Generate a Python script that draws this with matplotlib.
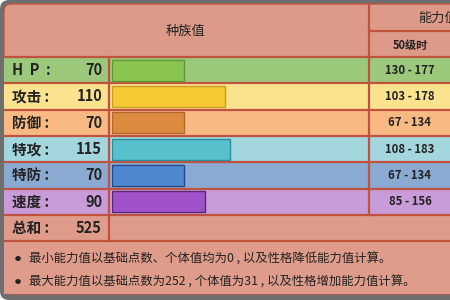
import numpy as np
import matplotlib.pyplot as plt
from matplotlib.patches import Rectangle, FancyBboxPatch

plt.rcParams['font.family'] = ['Noto Sans CJK SC', 'DejaVu Sans']

# table data
labels = ['H  P  :', '攻击 :', '防御 :', '特攻 :', '特防 :', '速度 :']
base_stats = [70, 110, 70, 115, 70, 90]
ranges_50 = ['130 - 177', '103 - 178', '67 - 134', '108 - 183', '67 - 134', '85 - 156']
total_label = '总和 :'
total_value = 525
notes = ['最小能力值以基础点数、个体值均为0 , 以及性格降低能力值计算。',
         '最大能力值以基础点数为252 , 个体值为31 , 以及性格增加能力值计算。']

row_bg = ['#9cc87c', '#fae28e', '#f8ba82', '#a4d6de', '#8aaad2', '#c89cd8']
bar_fc = ['#8ac552', '#f6c832', '#dc8a3e', '#58c0cc', '#5088d0', '#a052c8']
bar_ec = ['#5e9a36', '#c89c28', '#b0682c', '#2e8c98', '#28488c', '#5a2a7a']
salmon = '#de9a88'
line_c = '#c0533f'
txt_c = '#222222'

fig = plt.figure(figsize=(4.5, 3), dpi=100)
ax = fig.add_axes([0, 0, 1, 1])
ax.set_xlim(0, 450)
ax.set_ylim(300, 0)
ax.axis('off')

# outer frame
ax.add_patch(FancyBboxPatch((0, 0), 480, 300, boxstyle='round,pad=0,rounding_size=9',
                            fc='#6e6e6e', ec='none'))
ax.add_patch(FancyBboxPatch((4, 4), 476, 290, boxstyle='round,pad=0,rounding_size=7',
                            fc=salmon, ec=line_c, lw=1))

top = 57
step = 26.3
edges = [top + i * step for i in range(8)]
centers = [(edges[i] + edges[i + 1]) / 2 for i in range(7)]

for i in range(6):
    ax.add_patch(Rectangle((4, edges[i]), 476, step, fc=row_bg[i], ec='none'))
ax.add_patch(Rectangle((4, edges[6]), 476, step, fc='#e09c8a', ec='none'))
ax.add_patch(Rectangle((4, edges[7]), 476, 53, fc='#e09c8a', ec='none'))

# grid lines
for y in edges:
    ax.plot([4, 450], [y, y], color=line_c, lw=1.6)
ax.plot([109, 109], [edges[0], edges[7]], color=line_c, lw=1.6)
ax.plot([369, 369], [4, edges[6]], color=line_c, lw=1.6)
ax.plot([369, 450], [31, 31], color=line_c, lw=1.6)

# header text
ax.text(186, 31, '种族值', ha='center', va='center', fontsize=9.5, color=txt_c)
ax.text(418, 18, '能力值', ha='left', va='center', fontsize=9.5, color=txt_c)
ax.text(410, 45, '50级时', ha='center', va='center', fontsize=8, color=txt_c,
        fontweight='bold')

# row text
for i in range(6):
    ax.text(12, centers[i], labels[i], ha='left', va='center', fontsize=10.5,
            fontweight='bold', color=txt_c)
    ax.text(102, centers[i], str(base_stats[i]), ha='right', va='center',
            fontsize=10.5, fontweight='bold', color=txt_c)
    ax.text(410, centers[i], ranges_50[i], ha='center', va='center', fontsize=8.2,
            fontweight='bold', color=txt_c)
ax.text(12, centers[6], total_label, ha='left', va='center', fontsize=10.5,
        fontweight='bold', color=txt_c)
ax.text(102, centers[6], str(total_value), ha='right', va='center', fontsize=10.5,
        fontweight='bold', color=txt_c)

# notes
for k, note in enumerate(notes):
    y = 259 + k * 23
    ax.text(18, y, '●', ha='center', va='center', fontsize=4.5, color=txt_c)
    ax.text(29, y, note, ha='left', va='center', fontsize=8.9, color=txt_c)

# bars on their own axes
bx = fig.add_axes([112 / 450, 0, 257 / 450, 1])
bx.set_ylim(300, 0)
bx.set_xlim(0, 257 / 1.03)
bx.axis('off')
bx.patch.set_alpha(0)
bx.barh(centers[:6], base_stats, height=21, color=bar_fc, edgecolor=bar_ec, lw=1)

fig.savefig('out.png', dpi=100)
